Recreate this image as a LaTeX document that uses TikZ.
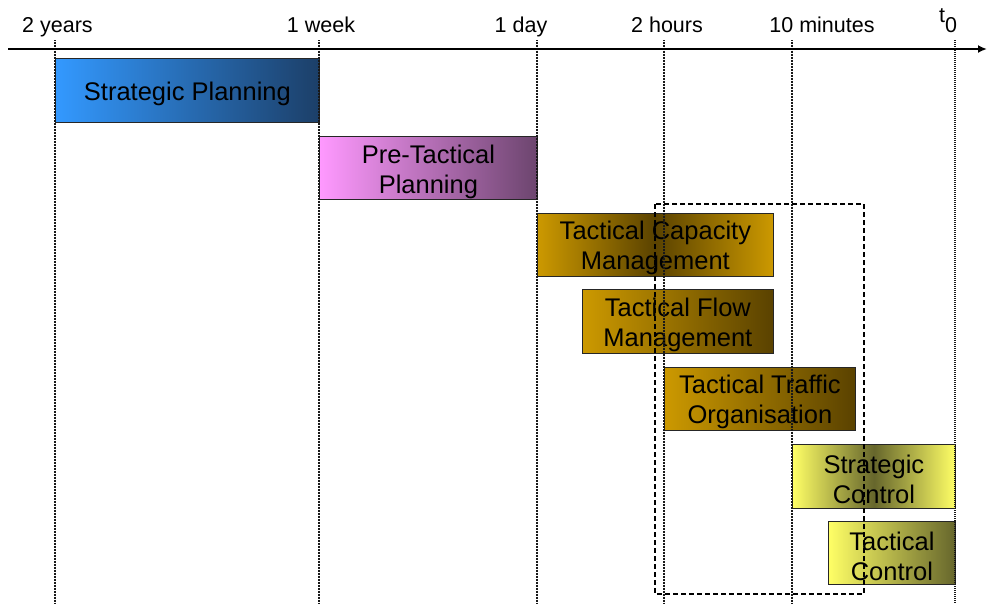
\documentclass[tikz,border=0pt]{standalone}
\usepackage{fontspec}
\setmainfont{Liberation Sans}
\usetikzlibrary{arrows.meta}
\definecolor{spL}{HTML}{3399FF}
\definecolor{spR}{HTML}{1C3F68}
\definecolor{ptL}{HTML}{FF99FF}
\definecolor{ptR}{HTML}{6C456E}
\definecolor{gold}{HTML}{CC9900}
\definecolor{goldD}{HTML}{5A4200}
\definecolor{yel}{HTML}{FFFF66}
\definecolor{yelD}{HTML}{66662C}
\tikzset{
  box/.style={draw=black!85, line width=0.8pt, anchor=north west, inner sep=0pt},
  boxtext/.style={align=center, font=\fontsize{25.5}{30}\selectfont, text=black, inner sep=0pt},
  tick/.style={line width=1.1pt, dash pattern=on 1pt off 0.5pt, black!90},
  tlabel/.style={font=\fontsize{21.5}{24}\selectfont, anchor=base, inner sep=0pt},
}
\begin{document}
\begin{tikzpicture}[x=1pt,y=-1pt]
\useasboundingbox (0,0) rectangle (987,603);
% boxes
\node[box, minimum width=264pt, minimum height=64pt, left color=spL, right color=spR] (sp) at (55,58) {};
\node[box, minimum width=218pt, minimum height=63pt, left color=ptL, right color=ptR] (pt) at (319,136) {};
\node[box, minimum width=236pt, minimum height=63pt, left color=gold, right color=gold, middle color=goldD] (tcm) at (537,213) {};
\node[box, minimum width=191pt, minimum height=64pt, left color=gold, right color=goldD] (tfm) at (582,289) {};
\node[box, minimum width=191pt, minimum height=63pt, left color=gold, right color=goldD] (tto) at (664,367) {};
\node[box, minimum width=163pt, minimum height=64pt, left color=yel, right color=yel, middle color=yelD] (sc) at (792,444) {};
\node[box, minimum width=127pt, minimum height=63pt, left color=yel, right color=yelD] (tc) at (828,521) {};
% box texts
\node[boxtext] (spt) at ([yshift=-4pt]sp.center) {Strategic Planning};
\node[boxtext] (ptt) at ([yshift=-4pt]pt.center) {Pre-Tactical\\Planning};
\node[boxtext] (tcmt) at ([yshift=-3pt]tcm.center) {Tactical Capacity\\Management};
\node[boxtext] (tfmt) at ([yshift=-3pt]tfm.center) {Tactical Flow\\Management};
\node[boxtext] (ttot) at ([yshift=-3pt]tto.center) {Tactical Traffic\\Organisation};
\node[boxtext] (sct) at ([yshift=-3pt]sc.center) {Strategic\\Control};
\node[boxtext] (tct) at ([yshift=-3pt]tc.center) {Tactical\\Control};
% tick coordinates
\coordinate (y2t) at (55,40);   \coordinate (y2b) at (55,603);
\coordinate (w1t) at (319,40);  \coordinate (w1b) at (319,603);
\coordinate (d1t) at (537,40);  \coordinate (d1b) at (537,603);
\coordinate (h2t) at (664,40);  \coordinate (h2b) at (664,603);
\coordinate (m10t) at (792,40); \coordinate (m10b) at (792,603);
\coordinate (t0t) at (955,40);  \coordinate (t0b) at (955,603);
\draw[tick] (y2t) -- (y2b);
\draw[tick] (w1t) -- (w1b);
\draw[tick] (d1t) -- (d1b);
\draw[tick] (h2t) -- (h2b);
\draw[tick] (m10t) -- (m10b);
\draw[tick, line width=2.2pt, dash pattern=on 1.2pt off 0.8pt] (t0t) -- (t0b);
% dashed window
\coordinate (wa) at (655,204);
\coordinate (wb) at (864,594);
\draw[line width=1.4pt, dash pattern=on 5pt off 3pt] (wa) rectangle (wb);
% axis
\coordinate (ax0) at (8,49);
\coordinate (ax1) at (987,49);
\draw[line width=2pt, -{Latex[length=9pt,width=8pt]}] (ax0) -- (ax1);
% labels
\node[tlabel] (l1) at (57.5,32) {2 years};
\node[tlabel] (l2) at (321,32) {1 week};
\node[tlabel] (l3) at (521,32) {1 day};
\node[tlabel] (l4) at (667,32) {2 hours};
\node[tlabel] (l5) at (822,32) {10 minutes};
\node[tlabel] (l6) at (948,32) {\raisebox{10pt}{t}0};
\end{tikzpicture}
\end{document}
